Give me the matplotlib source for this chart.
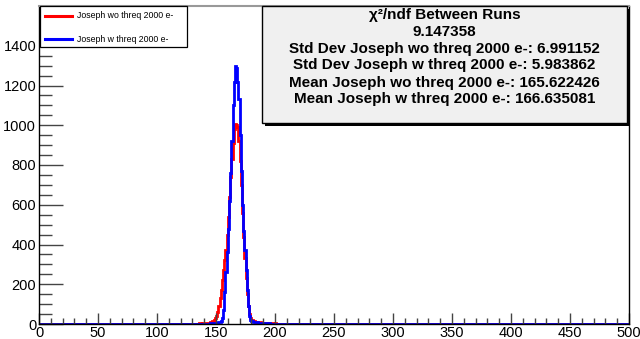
import numpy as np
import matplotlib.pyplot as plt
from matplotlib.patches import Rectangle
from matplotlib.ticker import MultipleLocator

plt.rcParams['font.family'] = ['Liberation Sans', 'DejaVu Sans']

# histogram binning: 500 bins of width 1 over [0, 500]
bin_width = 1
x_min, x_max = 0, 500

# counts per bin, starting at the given lower edge
wo_start = 125
wo_counts = [1, 0, 1, 0, 2, 1, 1, 2, 1, 2,      # 125
             2, 3, 2, 3, 3, 4, 3, 5, 6, 7,      # 135
             9, 12, 15, 20, 28, 40, 60, 90, 130, 170,   # 145
             220, 270, 320, 370, 450, 540, 640, 740, 830, 910,   # 155
             980, 1005, 1000, 990, 920, 820, 700, 560, 440, 330,  # 165
             230, 150, 90, 50, 30, 20, 16, 14, 12, 10,  # 175
             9, 8, 8, 7, 6, 6, 5, 5, 4, 4,      # 185
             4, 3, 3, 3, 2, 3, 2, 2, 2, 1,      # 195
             2, 1, 1, 2, 1, 1, 1, 0, 1, 1,      # 205
             1, 0, 1, 0, 1, 0, 0, 1, 0, 1]      # 215

w_start = 125
w_counts = [0, 0, 0, 0, 0, 1, 0, 0, 0, 1,      # 125
            0, 1, 0, 1, 1, 1, 2, 1, 2, 2,      # 135
            3, 3, 4, 4, 5, 5, 6, 8, 10, 15,    # 145
            30, 70, 160, 260, 360, 480, 620, 760, 920, 1100,   # 155
            1220, 1300, 1290, 1220, 1130, 950, 770, 600, 470, 370,  # 165
            270, 170, 90, 40, 20, 14, 12, 10, 9, 8,    # 175
            8, 7, 6, 6, 5, 5, 4, 4, 3, 3,      # 185
            3, 2, 2, 2, 2, 1, 1, 2, 1, 1,      # 195
            1, 1, 0, 1, 1, 0, 1, 0, 0, 1]      # 205

label_wo = 'Joseph wo threq 2000 e-'
label_w = 'Joseph w threq 2000 e-'
stats_lines = [
    '\u03c7\u00b2/ndf Between Runs',
    '9.147358',
    'Std Dev Joseph wo threq 2000 e-: 6.991152',
    'Std Dev Joseph w threq 2000 e-: 5.983862',
    'Mean Joseph wo threq 2000 e-: 165.622426',
    'Mean Joseph w threq 2000 e-: 166.635081',
]

edges = np.arange(x_min, x_max + bin_width, bin_width)


def full_hist(start, counts):
    h = np.zeros(len(edges) - 1)
    i0 = (start - x_min) // bin_width
    h[i0:i0 + len(counts)] = counts
    return h


h_wo = full_hist(wo_start, wo_counts)
h_w = full_hist(w_start, w_counts)

W, H = 640, 339
fig = plt.figure(figsize=(W / 100, H / 100), dpi=100)
ax = fig.add_axes([39 / W, 15 / H, (629 - 39) / W, (324 - 6) / H])

ax.stairs(h_wo, edges, color='#ff0000', lw=2.0)
ax.stairs(h_w, edges, color='#0000ff', lw=2.0)

ax.set_xlim(x_min, x_max)
ax.set_ylim(0, 1600)
ax.xaxis.set_major_locator(MultipleLocator(50))
ax.xaxis.set_minor_locator(MultipleLocator(10))
ax.yaxis.set_minor_locator(MultipleLocator(50))
ax.set_yticks(np.arange(0, 1401, 200))
ax.tick_params(axis='both', which='both', direction='in', labelsize=10.5, color='#444444')
ax.tick_params(axis='y', which='major', length=17, width=1)
ax.tick_params(axis='y', which='minor', length=9, width=1)
ax.tick_params(axis='x', which='major', length=8, width=1)
ax.tick_params(axis='x', which='minor', length=4, width=1)
ax.tick_params(axis='x', pad=1.5)
ax.tick_params(axis='y', pad=2)
for s in ['left', 'bottom', 'right']:
    ax.spines[s].set_linewidth(1)
ax.spines['top'].set_color('#999999')
ax.spines['top'].set_linewidth(1.5)


def px_box(x0, y0, x1, y1, **kw):
    return Rectangle((x0 / W, 1 - y1 / H), (x1 - x0) / W, (y1 - y0) / H,
                     transform=fig.transFigure, **kw)


# legend box
fig.patches.append(px_box(40, 6, 187, 47, facecolor='white', edgecolor='black', lw=0.9, zorder=5))
for y, color, label in [(16, '#ff0000', label_wo), (39, '#0000ff', label_w)]:
    fig.lines.append(plt.Line2D([45 / W, 72 / W], [1 - y / H] * 2, color=color, lw=2.2,
                                transform=fig.transFigure, zorder=6))
    fig.text(77 / W, 1 - y / H, label, fontsize=6.3, va='center', ha='left', zorder=6)

# stats box with drop shadow
fig.patches.append(px_box(265, 9, 630, 126, facecolor='black', edgecolor='none', zorder=5))
fig.patches.append(px_box(262, 6, 627, 123, facecolor='#f0f0f0', edgecolor='black', lw=1, zorder=6))
for y, line in zip([15, 31.7, 49.3, 65.5, 82.7, 99.3], stats_lines):
    fig.text(444.5 / W, 1 - y / H, line, fontsize=11, fontweight='bold',
             ha='center', va='center', zorder=7)

fig.savefig('out.png', dpi=100)
